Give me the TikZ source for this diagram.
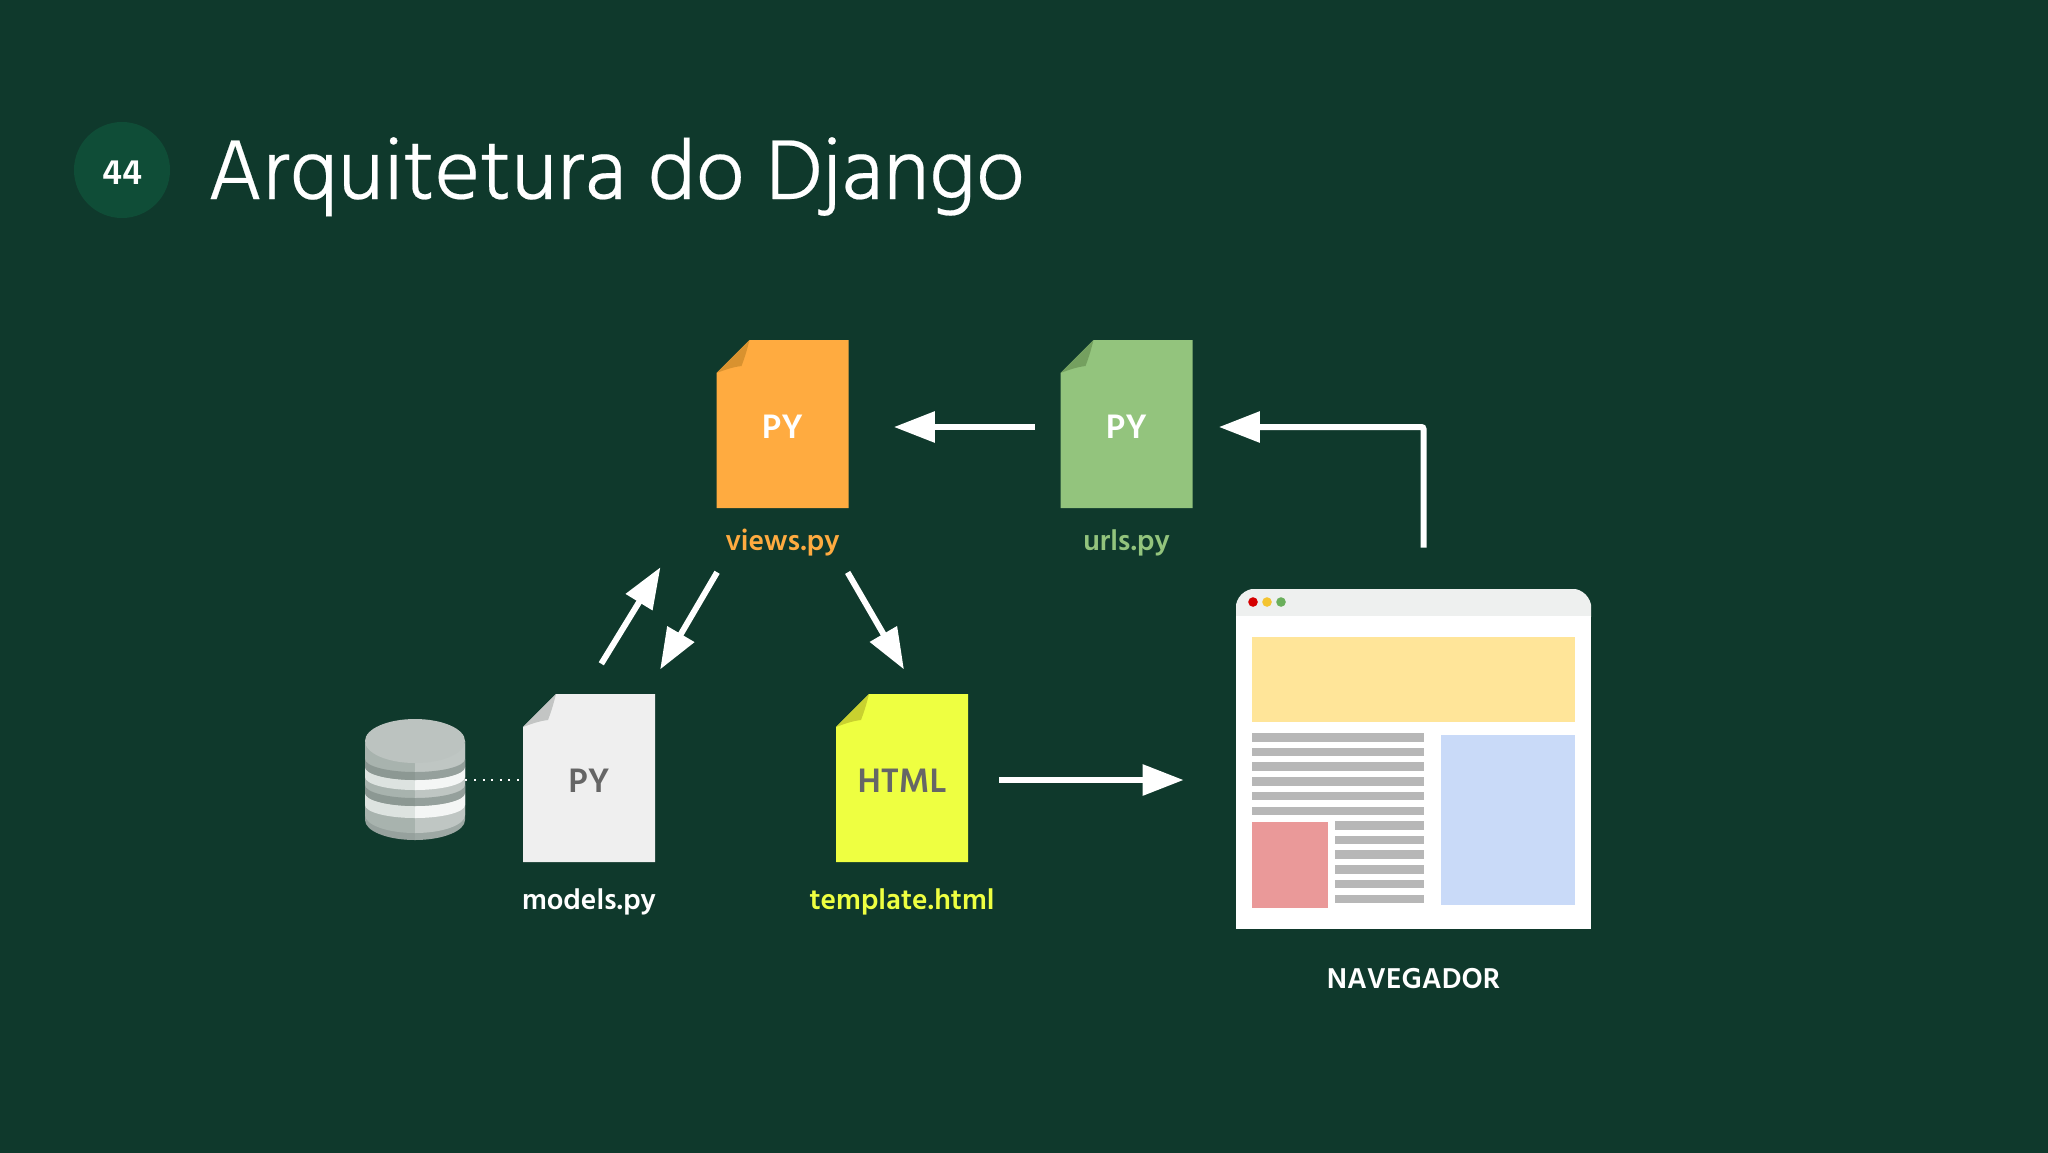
\documentclass[tikz,border=0pt]{standalone}
\usepackage{fontspec}
\setmainfont{Hind Madurai}
\newfontfamily\titlefont{Hind Madurai Light}[FakeBold=0.25]
\usetikzlibrary{
  arrows.meta,
  calc,
  positioning
}
\definecolor{slidebg}{HTML}{0F392C}
\definecolor{badgebg}{HTML}{0F4D37}
\definecolor{viewscol}{HTML}{FFAB40}
\definecolor{viewsfold}{HTML}{D9922F}
\definecolor{urlscol}{HTML}{93C47D}
\definecolor{urlsfold}{HTML}{74A05F}
\definecolor{modelscol}{HTML}{EFEFEF}
\definecolor{modelsfold}{HTML}{C3C5C4}
\definecolor{templatecol}{HTML}{EEFF41}
\definecolor{templatefold}{HTML}{C9D12F}
\definecolor{filetext}{HTML}{666666}
\definecolor{barline}{HTML}{B7B7B7}
\definecolor{dbtop}{HTML}{BCC3C0}
\definecolor{bartop}{HTML}{EEF0EF}
\definecolor{bannercol}{HTML}{FFE599}
\definecolor{sidecol}{HTML}{C9DAF8}
\definecolor{photocol}{HTML}{EA9999}
\tikzset{
  flow/.style={
    draw=white,
    line width=3pt,
    -{Triangle[length=20.5pt,width=15pt]}
  },
  filebox/.style={
    inner sep=0pt,
    minimum width=66pt,
    minimum height=84pt,
    text height=14pt,
    text depth=0pt,
    font=\bfseries\fontsize{17.4}{17.4}\selectfont
  },
  filelabel/.style={
    inner sep=0pt,
    anchor=base,
    font=\bfseries\fontsize{14.7}{14.7}\selectfont
  }
}
% name, centre, page colour, fold colour, text colour, text
\newcommand{\fileicon}[6]{
  \fill[#3] ($(#2)+(-66,-51)$) -- ($(#2)+(-33,-84)$) -- ($(#2)+(66,-84)$)
    -- ($(#2)+(66,84)$) -- ($(#2)+(-66,84)$) -- cycle;
  \fill[#4] ($(#2)+(-66,-51)$) -- ($(#2)+(-33,-84)$)
    .. controls ($(#2)+(-36,-72)$) and ($(#2)+(-38,-66)$) .. ($(#2)+(-41,-58)$)
    .. controls ($(#2)+(-50,-57)$) and ($(#2)+(-58,-54)$) .. cycle;
  \node[filebox,text=#5] (#1) at (#2) {#6};
}
% top and bottom of a cylinder band at its rim, sag, colour
\newcommand{\dbband}[4]{
  \fill[#4] (365,#1) arc[start angle=180,end angle=0,x radius=50,y radius=#3]
    -- (465,#2) arc[start angle=0,end angle=180,x radius=50,y radius=#3] -- cycle;
}
\begin{document}
\begin{tikzpicture}[x=.5pt,y=-.5pt]
  \useasboundingbox (0,0) rectangle (2048,1152);
  \fill[slidebg] (-10,-10) rectangle (2058,1162);

  \node[circle,fill=badgebg,minimum size=48pt,inner sep=0pt,text=white,text height=14pt,text depth=0pt,font=\bfseries\fontsize{18}{18}\selectfont] (badge) at (122,170) {44};
  \node[inner sep=0pt,text=white,font=\titlefont\fontsize{43.4}{43.4}\selectfont,anchor=base west] (title) at (207,199) {Arquitetura do Django};

  % files
  \fileicon{views}{782.5,424}{viewscol}{viewsfold}{white}{PY}
  \fileicon{urls}{1126.5,424}{urlscol}{urlsfold}{white}{PY}
  \fileicon{models}{589,778}{modelscol}{modelsfold}{filetext}{PY}
  \fileicon{template}{902,778}{templatecol}{templatefold}{filetext}{HTML}

  \node[filelabel,text=viewscol] (viewslabel) at ([yshift=-21pt]views.south) {views.py};
  \node[filelabel,text=urlscol] (urlslabel) at ([yshift=-21pt]urls.south) {urls.py};
  \node[filelabel,text=white] (modelslabel) at ([yshift=-23.5pt]models.south) {models.py};
  \node[filelabel,text=templatecol] (templatelabel) at ([yshift=-23.5pt]template.south) {template.html};

  % database
  \foreach \xa/\body/\rim/\dark/\light in {
      365/A8B3AE/96A19D/8C9893/DDE3E0,
      415/BFC6C3/9DA8A4/95A09C/F4F6F5} {
    \begin{scope}
      \clip (\xa,700) rectangle (\xa+50,850);
      \definecolor{dbbody}{HTML}{\body}
      \definecolor{dbrim}{HTML}{\rim}
      \definecolor{dbdark}{HTML}{\dark}
      \definecolor{dblight}{HTML}{\light}
      \dbband{741}{820}{20}{dbrim}
      \dbband{741}{815}{18}{dbbody}
      \dbband{793}{805}{13}{dblight}
      \dbband{785}{793}{13}{dbdark}
      \dbband{767}{777}{13}{dblight}
      \dbband{759}{767}{13}{dbdark}
    \end{scope}
  }
  \fill[dbtop] (415,741) ellipse[x radius=50,y radius=22];
  \node[inner sep=0pt,minimum width=50pt,minimum height=60.5pt] (db) at (415,779.5) {};

  % browser
  \node[inner sep=0pt,minimum width=177.5pt,minimum height=170pt] (browser) at (1413.5,759) {};
  \begin{scope}
    \clip (1236,589) rectangle (1591,616);
    \fill[bartop,rounded corners=10pt] (browser.south west) -- (browser.north west) -- (browser.north east) -- (browser.south east) -- cycle;
  \end{scope}
  \fill[white] (1236,616) rectangle (1591,929);
  \foreach \xdot/\coldot in {1253/D50000,1267/F4C430,1281/6AAF5B} {
    \definecolor{dotcol}{HTML}{\coldot}
    \fill[dotcol] (\xdot,602) circle[radius=4.8];
  }
  \fill[bannercol] (1252,637) rectangle (1575,722);
  \fill[sidecol] (1441,735) rectangle (1575,905);
  \fill[photocol] (1252,822) rectangle (1328,908);
  \foreach \i in {0,...,5} {
    \fill[barline] (1252,733+14.7*\i) rectangle ++(172,8.5);
    \fill[barline] (1335,821+14.7*\i) rectangle ++(89,8.5);
  }
  \node[filelabel,text=white] (browserlabel) at (1413.5,988) {NAVEGADOR};

  % connectors
  \draw[flow,shorten <=12.5pt,shorten >=22.5pt] ([yshift=-1.5pt]urls.west) -- ([yshift=-1.5pt]views.east);
  \draw[flow,rounded corners=1pt,shorten >=13pt] ([xshift=5pt,yshift=20.5pt]browser.north) |- ([yshift=-1.5pt]urls.east);
  \draw[flow,shorten <=17.5pt,shorten >=34.5pt] ([xshift=-3pt]models.north) -- ([xshift=-43pt]views.south);
  \draw[flow,shorten <=37pt,shorten >=14pt] ([xshift=-14pt]views.south) -- ([xshift=28.5pt]models.north);
  \draw[flow,shorten <=37pt,shorten >=14pt] ([xshift=14pt]views.south) -- ([xshift=8pt]template.north);
  \draw[flow,shorten <=15.5pt,shorten >=26pt] ([yshift=-1pt]template.east) -- ([yshift=-1pt]template.east -| browser.west);
  \draw[white,line width=1pt,dash pattern=on 1pt off 3.3pt,shorten >=1.5pt] (db.east) -- (db.east -| models.west);
\end{tikzpicture}
\end{document}
